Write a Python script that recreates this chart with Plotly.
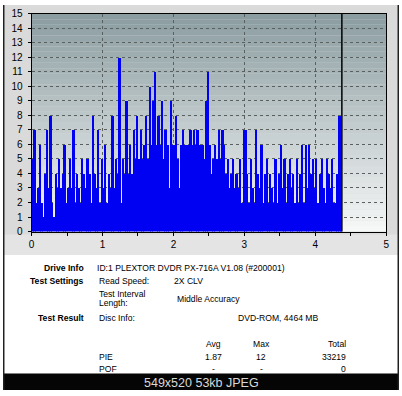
import plotly.graph_objects as go

# ---------------- data ----------------
step = 0.025  # sampling step of the scan along the x axis
pie_values = [
    # 0.0 - 0.975
    5, 7, 2, 3, 6, 2, 1, 4, 7, 3, 8, 2, 1, 4, 3, 5, 3, 4, 6, 2,
    3, 5, 3, 7, 2, 4, 3, 2, 5, 4, 3, 5, 4, 2, 8, 4, 3, 7, 2, 5,
    # 1.0 - 1.975
    3, 6, 2, 4, 3, 8, 3, 5, 4, 12, 2, 5, 4, 9, 4, 6, 4, 7, 5, 8,
    5, 7, 5, 6, 8, 5, 10, 6, 9, 11, 6, 8, 6, 9, 5, 7, 6, 3, 9, 6,
    # 2.0 - 2.975
    6, 8, 5, 3, 6, 7, 6, 6, 6, 7, 6, 7, 6, 7, 6, 6, 6, 5, 9, 11,
    6, 4, 5, 6, 5, 7, 5, 7, 6, 4, 5, 3, 4, 5, 3, 4, 3, 5, 2, 7,
    # 3.0 - 3.975
    7, 4, 2, 5, 3, 2, 7, 4, 3, 6, 2, 4, 5, 2, 4, 3, 2, 5, 2, 4,
    6, 3, 5, 2, 4, 5, 3, 4, 2, 5, 2, 4, 6, 2, 6, 3, 6, 4, 5, 3,
    # 4.0 - 4.35
    5, 2, 4, 5, 3, 2, 5, 4, 3, 5, 2, 2, 4, 8, 7,
]
disc_end = 4.375
x_ticks = [0, 1, 2, 3, 4, 5]
y_ticks = list(range(0, 16))

info_rows = [
    ("Drive Info", "ID:1 PLEXTOR DVDR PX-716A V1.08 (#200001)"),
    ("Test Settings", "Read Speed:"),
    ("Test Result", "Disc Info:"),
]
read_speed = "2X CLV"
interval_label = ["Test Interval", "Length:"]
interval_value = "Middle Accuracy"
disc_info = "DVD-ROM, 4464 MB"
stat_cols = ["Avg", "Max", "Total"]
stat_rows = [("PIE", ["1.87", "12", "33219"]), ("POF", ["-", "-", "0"])]
caption = "549x520 53kb JPEG"

# ---------------- figure ----------------
W, H = 402, 396
PX0, PX1 = 29, 389      # plot left/right in px
PY0, PY1 = 9, 233       # plot top/bottom in px

def px(x):
    return x / W

def py(y):
    return 1 - y / H

fig = go.Figure()
fig.add_trace(go.Bar(
    x0=0, dx=step, y=pie_values, offset=0, width=step,
    marker=dict(color="#0000f2", line=dict(width=0)),
    hoverinfo="skip",
))

shapes = []
# chart panel background (light gray)
shapes.append(dict(type="rect", xref="paper", yref="paper", x0=0, x1=1,
                   y0=py(257), y1=1, fillcolor="#dadada", line_width=0, layer="below"))
shapes.append(dict(type="rect", xref="paper", yref="paper", x0=0, x1=1,
                   y0=py(257), y1=py(236), fillcolor="#e4e4e4", line_width=0, layer="below"))
# plot gradient background
top = (0x8a, 0x9c, 0xa0)
bot = (0xf7, 0xf8, 0xf8)
n = 40
for i in range(n):
    t = (i + 0.5) / n
    c = tuple(int(round(top[k] + (bot[k] - top[k]) * t)) for k in range(3))
    shapes.append(dict(type="rect", xref="x domain", yref="y domain", x0=0, x1=1,
                       y0=1 - (i + 1) / n, y1=1 - i / n,
                       fillcolor="rgb(%d,%d,%d)" % c, line_width=0, layer="below"))
# end-of-disc marker
shapes.append(dict(type="line", xref="x", yref="y domain", x0=disc_end, x1=disc_end,
                   y0=0, y1=1, line=dict(color="black", width=1.5)))
# caption bar at the bottom
shapes.append(dict(type="rect", xref="paper", yref="paper", x0=0, x1=1,
                   y0=0, y1=py(379), fillcolor="#050505", line_width=0))
# outer dark borders
shapes.append(dict(type="rect", xref="paper", yref="paper", x0=0, x1=px(1.5),
                   y0=0, y1=1, fillcolor="#202020", line_width=0))
shapes.append(dict(type="rect", xref="paper", yref="paper", x0=px(400.5), x1=1,
                   y0=0, y1=1, fillcolor="#202020", line_width=0))

FONT = "Liberation Sans, Arial, sans-serif"
FS = 8.6
ann = []

def txt(x, y, s, anchor="left", bold=False, size=FS, color="#000000"):
    ann.append(dict(xref="paper", yref="paper", x=px(x), y=py(y), text=("<b>%s</b>" % s) if bold else s,
                    showarrow=False, xanchor=anchor, yanchor="middle",
                    font=dict(family=FONT, size=size, color=color)))

txt(84, 270, info_rows[0][0], "right", True)
txt(93, 270, info_rows[0][1])
txt(84, 284, info_rows[1][0], "right", True)
txt(95, 284, info_rows[1][1])
txt(172, 284, read_speed)
txt(95, 297, interval_label[0])
txt(95, 307, interval_label[1])
txt(175, 302, interval_value)
txt(84, 322, info_rows[2][0], "right", True)
txt(95, 322, info_rows[2][1])
txt(237, 322, disc_info)
col_x = [(214, "center"), (262, "center"), (350, "right")]
for (cx, an), s in zip(col_x, stat_cols):
    txt(cx, 349, s, an)
for r, (name, vals) in enumerate(stat_rows):
    yy = 362 + r * 12.5
    txt(95, yy, name)
    for (cx, an), s in zip(col_x, vals):
        txt(cx, yy, s, an)

txt(201, 389, caption, "center", size=12.5, color="#d8d8d8")

axis_common = dict(showline=True, linecolor="#000000", linewidth=1, mirror=True,
                   ticks="outside", ticklen=3, tickcolor="#000000",
                   showgrid=True, gridcolor="#5a5f60", griddash="dot", gridwidth=1,
                   zeroline=False, tickfont=dict(family=FONT, size=10, color="#000000"))

fig.update_layout(
    width=W, height=H,
    margin=dict(l=0, r=0, t=0, b=0),
    paper_bgcolor="#ffffff",
    plot_bgcolor="rgba(0,0,0,0)",
    bargap=0,
    showlegend=False,
    shapes=shapes,
    annotations=ann,
    xaxis=dict(domain=[px(PX0), px(PX1)], range=[0, 5], tickvals=x_ticks,
               minor=dict(dtick=0.5, ticks="outside", ticklen=3, tickcolor="#000000", showgrid=False),
               **axis_common),
    yaxis=dict(domain=[py(PY1), py(PY0)], range=[0, 15], tickvals=y_ticks,
               ticklabelstandoff=3, **axis_common),
)

fig.write_html("out.html", config={"displayModeBar": False},
               post_script="document.body.style.margin='0';document.body.style.overflow='hidden';")
